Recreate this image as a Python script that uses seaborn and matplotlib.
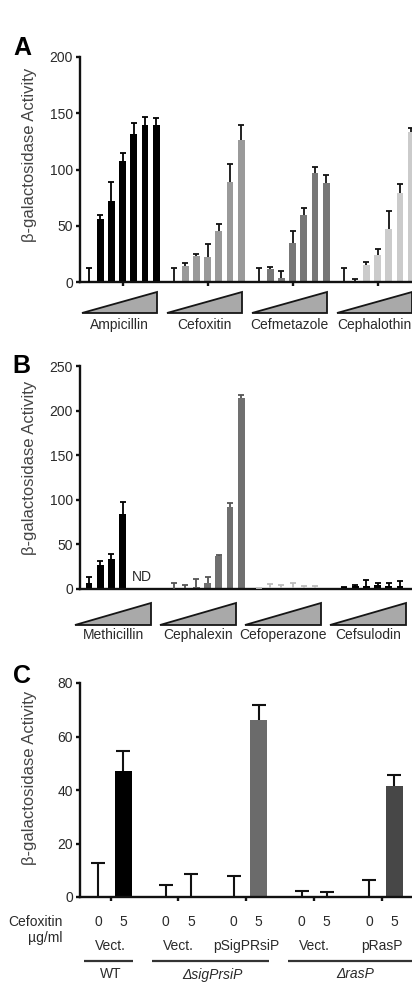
import numpy as np
import pandas as pd
import matplotlib
matplotlib.use('Agg')
import matplotlib.pyplot as plt
import seaborn as sns
from matplotlib.patches import Polygon
from matplotlib.transforms import blended_transform_factory

sns.set_theme(style='ticks')
plt.rcParams['font.family'] = ['Liberation Sans', 'DejaVu Sans']
plt.rcParams['text.color'] = '#2a2a2a'

# ---- data: panel A (beta-lactam inducers) ----
a_drugs = ['Ampicillin', 'Cefoxitin', 'Cefmetazole', 'Cephalothin']
a_values = [[0, 56, 72, 108, 132, 140, 140],
            [0, 14, 23, 22, 45, 89, 126],
            [0, 11.5, 3.5, 35, 60, 97, 88],
            [0, 1, 15, 24, 47, 79.5, 133]]
a_sd = [[12.5, 4, 17, 6.5, 9, 7, 6],
        [12.5, 2.5, 2, 11.5, 7, 16, 14],
        [12.5, 2, 6, 10, 6, 5, 7],
        [12.5, 1.5, 3, 5, 16, 8, 4]]
a_colors = ['#000000', '#9a9a9a', '#777777', '#cbcbcb']
a_ecolors = ['#000000', '#111111', '#111111', '#111111']

# ---- data: panel B ----
b_drugs = ['Methicillin', 'Cephalexin', 'Cefoperazone', 'Cefsulodin']
b_values = [[7, 26.5, 34, 84],
            [0, 1, 2, 7, 36.5, 92, 214],
            [1, 1, 1, 1, 1, 1],
            [2, 3, 3, 4, 3, 3]]
b_sd = [[7, 5, 5, 14],
        [6.5, 3.5, 9, 6, 1.5, 4.5, 3],
        [0.5, 5, 4, 6, 2, 2],
        [0.5, 1.5, 7, 2.5, 3.5, 6]]
b_colors = ['#000000', '#707070', '#d2d2d2', '#000000']
b_ecolors = ['#000000', '#555555', '#bdbdbd', '#000000']

# ---- data: panel C (cefoxitin 0 / 5 ug/ml) ----
c_strain = ['WT', 'WT', 'dsig', 'dsig', 'dsig_comp', 'dsig_comp',
            'dras', 'dras', 'dras_comp', 'dras_comp']
c_dose = ['0', '5', '0', '5', '0', '5', '0', '5', '0', '5']
c_values = [0, 47, 0, 0, 0, 66, 0, 0, 0, 41.5]
c_sd = [12.7, 7.5, 4.6, 8.7, 7.8, 5.6, 2.3, 2.0, 6.5, 4.1]
c_colors = {'WT': '#000000', 'dsig': '#000000', 'dsig_comp': '#6b6b6b',
            'dras': '#000000', 'dras_comp': '#474747'}
c_plasmid = ['Vect.', 'Vect.', 'pSigPRsiP', 'Vect.', 'pRasP']
c_genotype = ['WT', 'ΔsigPrsiP', 'ΔrasP']
c_geno_pairs = [(0, 0), (1, 2), (3, 4)]

# ---- layout ----
W, H = 412, 984
GROUP = 7.59      # slot distance between drug groups
PAIR = 2.715      # distance between strain pairs in C
TXT = '#2a2a2a'
LW = 1.7

fig = plt.figure(figsize=(W / 100, H / 100), dpi=100)


def rect(l, t, r, b):
    return [l / W, 1 - b / H, (r - l) / W, (b - t) / H]


def style_axis(ax, ymax, step):
    sns.despine(ax=ax)
    for s in ('left', 'bottom'):
        ax.spines[s].set_linewidth(LW)
        ax.spines[s].set_color('#111111')
    ax.set_ylim(0, ymax)
    ax.set_yticks(np.arange(0, ymax + 1, step))
    ax.tick_params(axis='both', direction='out', length=3, width=LW,
                   color='#111111', labelsize=10, labelcolor=TXT, pad=2)
    ax.set_xlabel('')
    ax.set_ylabel('')
    ax.patch.set_alpha(0)


def up_errorbars(ax, x, y, sd, color, lw, cap):
    _, caps, _ = ax.errorbar(x, y, yerr=[np.zeros(len(sd)), sd], fmt='none',
                             ecolor=color, elinewidth=lw, capsize=cap,
                             capthick=lw, zorder=5)
    caps[0].set_visible(False)


def drug_panel(ax, strip, names, values, sds, colors, ecolors, ymax, step,
               tri_x0, tri_x1, xticks):
    rows = []
    for g, name in enumerate(names):
        for i, (v, s) in enumerate(zip(values[g], sds[g])):
            rows.append(dict(x=g * GROUP + i, value=v, sd=s, drug=name))
    df = pd.DataFrame(rows)
    sns.barplot(data=df, x='x', y='value', hue='drug', hue_order=names,
                palette=dict(zip(names, colors)), native_scale=True,
                width=0.62, saturation=1, errorbar=None, legend=False,
                linewidth=0, ax=ax)
    for name, ec in zip(names, ecolors):
        d = df[df.drug == name]
        up_errorbars(ax, d.x.values, d.value.values, d.sd.values, ec, 1.3, 2.5)
    xl = ((80 - 89) / 11.2, (430 - 89) / 11.2)
    ax.set_xlim(xl)
    style_axis(ax, ymax, step)
    if xticks:
        ax.set_xticks([g * GROUP + 3 for g in range(len(names))])
        ax.set_xticklabels([])
    else:
        ax.set_xticks([])

    strip.set_xlim(xl)
    strip.set_ylim(0, 1)
    strip.axis('off')
    for g, name in enumerate(names):
        x0, x1 = g * GROUP + tri_x0, g * GROUP + tri_x1
        strip.add_patch(Polygon([(x0, 0), (x1, 0), (x1, 1)], closed=True,
                                facecolor='#a9a9a9', edgecolor='#151515',
                                lw=1.3, joinstyle='miter', clip_on=False))
    return df


# ---- panel A ----
ax_a = fig.add_axes(rect(80, 57, 430, 282))
strip_a = fig.add_axes(rect(80, 292, 430, 313))
drug_panel(ax_a, strip_a, a_drugs, a_values, a_sd, a_colors, a_ecolors,
           200, 50, -0.63, 6.1, True)
for g, name in enumerate(a_drugs):
    strip_a.text(g * GROUP + (6.1 - 0.63) / 2, -0.57, name, ha='center',
                 va='center', fontsize=10, color=TXT,
                 transform=blended_transform_factory(strip_a.transData,
                                                     strip_a.transAxes))

# ---- panel B ----
ax_b = fig.add_axes(rect(80, 366, 430, 589))
strip_b = fig.add_axes(rect(80, 603, 430, 625))
drug_panel(ax_b, strip_b, b_drugs, b_values, b_sd, b_colors, b_ecolors,
           250, 50, -1.25, 5.55, False)
for g, name in enumerate(b_drugs):
    strip_b.text(g * GROUP + (5.55 - 1.25) / 2, -0.45, name, ha='center',
                 va='center', fontsize=10, color=TXT,
                 transform=blended_transform_factory(strip_b.transData,
                                                     strip_b.transAxes))
ax_b.text(4.75, 13, 'ND', ha='center', va='center', fontsize=10, color=TXT)

# ---- panel C ----
ax_c = fig.add_axes(rect(80, 683, 420, 897))
cx = [p * PAIR + d for p in range(5) for d in (0, 1)]
dfc = pd.DataFrame(dict(x=cx, value=c_values, sd=c_sd, strain=c_strain,
                        dose=c_dose))
sns.barplot(data=dfc, x='x', y='value', hue='strain', palette=c_colors,
            native_scale=True, width=0.68, saturation=1, errorbar=None,
            legend=False, linewidth=0, ax=ax_c)
up_errorbars(ax_c, dfc.x.values, dfc.value.values, dfc.sd.values,
             '#111111', 1.5, 5)
ax_c.set_xlim((80 - 98) / 25, (420 - 98) / 25)
style_axis(ax_c, 80, 20)
pair_mid = [p * PAIR + 0.5 for p in range(5)]
ax_c.set_xticks(pair_mid)
ax_c.set_xticklabels([])

tc = blended_transform_factory(ax_c.transData, fig.transFigure)


def fy(py):
    return 1 - py / H


for x, d in zip(cx, c_dose):
    ax_c.text(x, fy(922), d, transform=tc, ha='center', va='center',
              fontsize=10, color=TXT)
for x, lab in zip(pair_mid, c_plasmid):
    ax_c.text(x, fy(946), lab, transform=tc, ha='center', va='center',
              fontsize=10, color=TXT)
for (a, b), lab in zip(c_geno_pairs, c_genotype):
    x0 = a * PAIR - 0.55
    x1 = b * PAIR + 1.4 if b < 4 else b * PAIR + 4
    ax_c.plot([x0, x1], [fy(961), fy(961)], transform=tc, color='#333333',
              lw=1.6, clip_on=False, solid_capstyle='butt')
    ax_c.text((pair_mid[a] + pair_mid[b]) / 2 + (0.3 if b == 4 else 0),
              fy(974.5), lab, transform=tc, ha='center', va='center',
              fontsize=10, color=TXT, style='normal' if lab == 'WT' else 'italic')

fig.text(63 / W, fy(922), 'Cefoxitin', ha='right', va='center', fontsize=10,
         color=TXT)
fig.text(63 / W, fy(938), 'µg/ml', ha='right', va='center', fontsize=10,
         color=TXT)

# ---- panel letters and y labels ----
for letter, (lx, ly) in zip('ABC', [(22, 48), (21, 366), (22, 676)]):
    fig.text(lx / W, fy(ly), letter, ha='center', va='center',
             fontsize=18, fontweight='bold', color='#000000')
for ly in (155, 468, 778):
    fig.text(30 / W, fy(ly), 'β-galactosidase Activity', rotation=90,
             ha='center', va='center', fontsize=12, color='#444444')

fig.savefig('out.png', dpi=100)
